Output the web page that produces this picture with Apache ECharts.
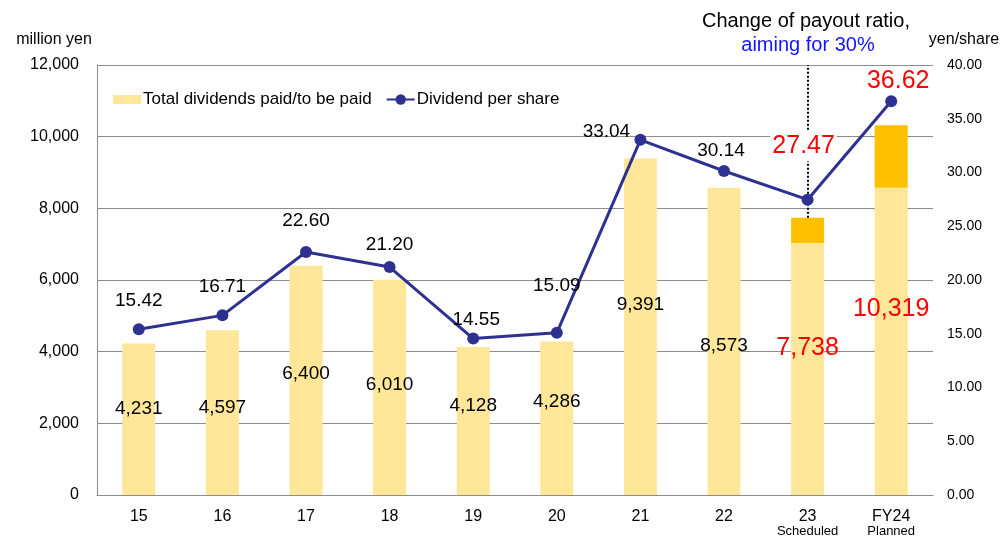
<!DOCTYPE html>
<html>
<head>
<meta charset="utf-8">
<script src="https://cdn.jsdelivr.net/npm/echarts@6/dist/echarts.min.js"></script>
<style>
html,body{margin:0;padding:0;background:#fff;}
#c{width:1002px;height:538px;}
</style>
</head>
<body>
<div id="c"></div>
<script>
// ---- data ----
const categories = ['15','16','17','18','19','20','21','22','23','FY24'];
const subLabels = ['','','','','','','','','Scheduled','Planned'];
const totalDividends = [4231,4597,6400,6010,4128,4286,9391,8573,7738,10319];
const baseDividends = [4231,4597,6400,6010,4128,4286,9391,8573,7036,8573];
const dividendPerShare = [15.42,16.71,22.60,21.20,14.55,15.09,33.04,30.14,27.47,36.62];
const highlighted = [false,false,false,false,false,false,false,false,true,true];

// ---- label placement (style) ----
const barLabelOffsets = [[0,-10],[0,-5],[0,-7],[0,-3],[0,-15],[0,-16],[0,-22],[0,4],[0,-21],[0,-32]];
const lineLabelOffsets = [[0,-28],[0,-29],[0,-31],[0,-22],[3,-19],[0,-47],[-34,-8],[-3,-20],[-4,-54],[7,-20]];

const FONT = '"Liberation Sans", Arial, sans-serif';
const extraDividends = totalDividends.map((t, i) => t - baseDividends[i]);

const chart = echarts.init(document.getElementById('c'), null, {renderer: 'canvas'});

const baseData = baseDividends.map((v, i) => ({
  value: v,
  label: {
    offset: barLabelOffsets[i],
    color: highlighted[i] ? '#FF0000' : '#000',
    fontSize: highlighted[i] ? 25 : 19
  }
}));

const lineData = dividendPerShare.map((v, i) => ({
  value: v,
  label: {
    offset: lineLabelOffsets[i],
    color: highlighted[i] ? '#FF0000' : '#000',
    fontSize: highlighted[i] ? 25 : 19,
    backgroundColor: i === 8 ? '#fff' : 'transparent',
    padding: i === 8 ? [3, 2, 3, 2] : 0
  }
}));

chart.setOption({
  animation: false,
  textStyle: {fontFamily: FONT},
  grid: {left: 97, right: 69, top: 65, bottom: 41, containLabel: false},
  legend: {
    left: 108, top: 86,
    itemWidth: 28, itemHeight: 13, itemGap: 14,
    textStyle: {fontFamily: FONT, fontSize: 17, color: '#000', padding: [0, 0, 0, -3]},
    data: [
      {name: 'Total dividends paid/to be paid', icon: 'path://M0,0h1v0zM0,2h28v9H0zM0,13h1v0z'},
      {name: 'Dividend per share'}
    ]
  },
  graphic: [
    {type: 'text', x: 54, y: 40, style: {text: 'million yen', font: '16px ' + FONT, fill: '#000', textAlign: 'center', textVerticalAlign: 'middle'}},
    {type: 'text', x: 964, y: 40, style: {text: 'yen/share', font: '16px ' + FONT, fill: '#000', textAlign: 'center', textVerticalAlign: 'middle'}},
    {type: 'text', x: 806, y: 21, style: {text: 'Change of payout ratio,', font: '20px ' + FONT, fill: '#000', textAlign: 'center', textVerticalAlign: 'middle'}},
    {type: 'text', x: 808, y: 45, style: {text: 'aiming for 30%', font: '20px ' + FONT, fill: '#1414FF', textAlign: 'center', textVerticalAlign: 'middle'}}
  ],
  xAxis: {
    type: 'category',
    data: categories,
    boundaryGap: true,
    axisTick: {show: false},
    axisLine: {lineStyle: {color: '#8c8c8c', width: 1}},
    axisLabel: {
      interval: 0,
      color: '#000', fontSize: 16, margin: 13, lineHeight: 17,
      formatter: (v, i) => subLabels[i] ? v + '\n{s|' + subLabels[i] + '}' : v,
      rich: {s: {fontSize: 13, lineHeight: 13, color: '#000'}}
    }
  },
  yAxis: [
    {
      type: 'value', min: 0, max: 12000, interval: 2000,
      axisLine: {show: true, lineStyle: {color: '#8c8c8c'}},
      axisTick: {show: false},
      axisLabel: {color: '#000', fontSize: 16, margin: 18,
        formatter: v => v.toLocaleString('en-US')},
      splitLine: {show: true, lineStyle: {color: '#8c8c8c', width: 1}}
    },
    {
      type: 'value', min: 0, max: 40, interval: 5,
      axisLine: {show: false},
      axisTick: {show: false},
      axisLabel: {color: '#000', fontSize: 14, margin: 14, formatter: v => v.toFixed(2)},
      splitLine: {show: false}
    }
  ],
  series: [
    {
      name: 'Total dividends paid/to be paid',
      type: 'bar', stack: 'div', barWidth: 33,
      itemStyle: {color: '#FFE699'},
      label: {
        show: true, position: 'inside', fontFamily: FONT,
        formatter: p => totalDividends[p.dataIndex].toLocaleString('en-US')
      },
      data: baseData,
      z: 2
    },
    {
      name: 'Increase',
      type: 'bar', stack: 'div', barWidth: 33,
      itemStyle: {color: '#FFC000'},
      data: extraDividends,
      z: 2
    },
    {
      name: 'Guide',
      type: 'line', data: [],
      markLine: {
        silent: true, symbol: 'none',
        label: {show: false},
        lineStyle: {color: '#000', type: [2, 2], width: 2},
        data: [[{coord: ['23', totalDividends[8]]}, {coord: ['23', 12000]}]]
      },
      z: 3
    },
    {
      name: 'Dividend per share',
      type: 'line', yAxisIndex: 1,
      symbol: 'circle', symbolSize: 12,
      lineStyle: {color: '#2E3192', width: 3},
      itemStyle: {color: '#2E3192'},
      label: {show: true, position: 'inside', fontFamily: FONT, formatter: p => p.value.toFixed(2)},
      data: lineData,
      z: 5
    }
  ]
});
</script>
</body>
</html>
